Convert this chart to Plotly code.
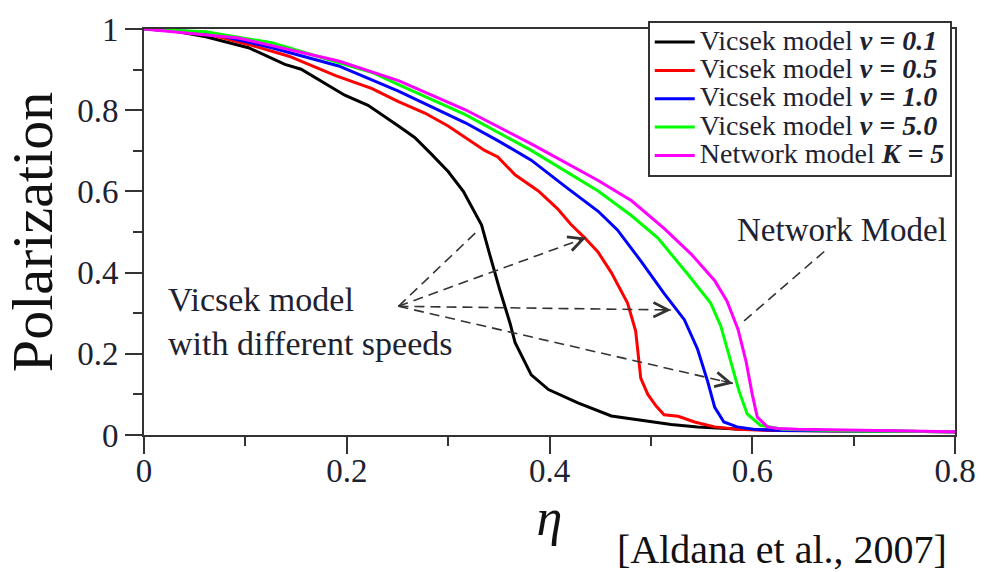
import plotly.graph_objects as go

# ---------------- data ----------------
eta_v01 = [0, 0.03, 0.061, 0.103, 0.139, 0.155, 0.198, 0.221, 0.251, 0.267, 0.283, 0.300, 0.315, 0.333,
           0.341, 0.351, 0.361, 0.366, 0.382, 0.399, 0.428, 0.461, 0.494, 0.520, 0.546, 0.589, 0.65, 0.7, 0.75, 0.8]
pol_v01 = [1.0, 0.995, 0.981, 0.954, 0.913, 0.901, 0.837, 0.812, 0.761, 0.733, 0.693, 0.649, 0.600, 0.517,
           0.445, 0.357, 0.276, 0.228, 0.148, 0.112, 0.079, 0.047, 0.035, 0.026, 0.020, 0.014, 0.011, 0.010, 0.009, 0.008]

eta_v05 = [0, 0.03, 0.061, 0.103, 0.143, 0.189, 0.225, 0.251, 0.277, 0.300, 0.336, 0.349, 0.366, 0.389,
           0.408, 0.421, 0.435, 0.448, 0.461, 0.477, 0.485, 0.490, 0.497, 0.505, 0.513, 0.527, 0.543, 0.563,
           0.585, 0.62, 0.7, 0.8]
pol_v05 = [1.0, 0.996, 0.989, 0.962, 0.933, 0.885, 0.853, 0.821, 0.793, 0.761, 0.701, 0.685, 0.641, 0.601,
           0.557, 0.519, 0.485, 0.450, 0.400, 0.325, 0.256, 0.140, 0.100, 0.072, 0.050, 0.046, 0.032, 0.020,
           0.014, 0.011, 0.010, 0.008]

eta_v10 = [0, 0.061, 0.126, 0.192, 0.251, 0.317, 0.349, 0.382, 0.415, 0.448, 0.467, 0.490, 0.513, 0.533,
           0.546, 0.556, 0.563, 0.572, 0.585, 0.601, 0.63, 0.7, 0.8]
pol_v10 = [1.0, 0.992, 0.954, 0.909, 0.847, 0.769, 0.725, 0.677, 0.613, 0.551, 0.505, 0.429, 0.349, 0.284,
           0.212, 0.132, 0.068, 0.032, 0.020, 0.014, 0.011, 0.010, 0.008]

eta_v50 = [0, 0.061, 0.126, 0.225, 0.251, 0.317, 0.382, 0.448, 0.481, 0.507, 0.536, 0.559, 0.569, 0.579,
           0.587, 0.595, 0.608, 0.63, 0.7, 0.8]
pol_v50 = [1.0, 0.993, 0.966, 0.893, 0.863, 0.789, 0.701, 0.601, 0.540, 0.485, 0.397, 0.325, 0.268, 0.180,
           0.108, 0.052, 0.024, 0.014, 0.010, 0.008]

eta_net = [0, 0.093, 0.192, 0.251, 0.317, 0.382, 0.448, 0.481, 0.513, 0.540, 0.563, 0.575, 0.586, 0.594,
           0.600, 0.605, 0.615, 0.625, 0.645, 0.727, 0.8]
pol_net = [1.0, 0.978, 0.921, 0.873, 0.801, 0.717, 0.627, 0.577, 0.509, 0.445, 0.380, 0.330, 0.260, 0.180,
           0.100, 0.044, 0.020, 0.016, 0.014, 0.010, 0.008]

series_names = ['Vicsek model <b><i>v = 0.1</i></b>', 'Vicsek model <b><i>v = 0.5</i></b>',
                'Vicsek model <b><i>v = 1.0</i></b>', 'Vicsek model <b><i>v = 5.0</i></b>',
                'Network model <b><i>K = 5</i></b>']
series_colors = ['#000000', '#ff0000', '#0000ff', '#00ff00', '#ff00ff']
series_x = [eta_v01, eta_v05, eta_v10, eta_v50, eta_net]
series_y = [pol_v01, pol_v05, pol_v10, pol_v50, pol_net]

x_ticks = [0, 0.2, 0.4, 0.6, 0.8]
y_ticks = [0, 0.2, 0.4, 0.6, 0.8, 1]

# annotation arrows (eta, polarization)
vicsek_arrow_tail = (0.251, 0.317)
vicsek_arrow_tips = [(0.330, 0.505), (0.436, 0.486), (0.520, 0.308), (0.581, 0.127)]
network_arrow_tail = (0.671, 0.452)
network_arrow_tip = (0.592, 0.281)

FONT = 'Liberation Serif'
TXT = '#1e2230'

fig = go.Figure()
for nm, col, xs, ys in zip(series_names, series_colors, series_x, series_y):
    fig.add_trace(go.Scatter(
        x=xs, y=ys, mode='lines', name='<span style="font-size:28px">' + nm + '</span>',
        line=dict(color=col, width=3)))

# dashed arrows
def dashed_arrow(tail, tip):
    fig.add_shape(type='line', xref='x', yref='y', x0=tail[0], y0=tail[1], x1=tip[0], y1=tip[1],
                  line=dict(color='#333333', width=1.6, dash='10px,6px'))
    dx = tip[0] - tail[0]
    dy = tip[1] - tail[1]
    fig.add_annotation(x=tip[0], y=tip[1], ax=tip[0] - 0.04 * dx, ay=tip[1] - 0.04 * dy,
                       xref='x', yref='y', axref='x', ayref='y', text='', showarrow=True,
                       arrowhead=5, arrowsize=2.2, arrowwidth=1.3, arrowcolor='#333333')

for tip in vicsek_arrow_tips:
    dashed_arrow(vicsek_arrow_tail, tip)
dashed_arrow(network_arrow_tail, network_arrow_tip)

fig.add_annotation(x=0.022, y=0.28, xref='x', yref='y', xanchor='left', yanchor='middle', align='left',
                   text='Vicsek model<br>with different speeds', showarrow=False,
                   font=dict(family=FONT, size=34, color=TXT))
fig.add_annotation(x=0.689, y=0.505, xref='x', yref='y', xanchor='center', yanchor='middle',
                   text='Network Model', showarrow=False, font=dict(family=FONT, size=33, color=TXT))
fig.add_annotation(x=0.993, y=-0.282, xref='paper', yref='paper', xanchor='right', yanchor='middle',
                   text='[Aldana et al., 2007]', showarrow=False, font=dict(family=FONT, size=40, color='#111111'))

axis_common = dict(showline=True, linecolor='#333333', linewidth=2, mirror=True, ticks='outside',
                   ticklen=17, tickwidth=1.5, tickcolor='#333333', showgrid=False, zeroline=False,
                   tickfont=dict(family=FONT, size=33, color=TXT))

fig.update_xaxes(range=[0, 0.8], tickvals=x_ticks, ticktext=[f'{v:g}' for v in x_ticks],
                 minor=dict(dtick=0.1, ticklen=9, tickwidth=1.5, tickcolor='#333333', ticks='outside'),
                 ticklabelstandoff=-12,
                 title=dict(text='<i>η</i>', font=dict(family=FONT, size=52, color='#111111'), standoff=0),
                 **axis_common)
fig.update_yaxes(range=[0, 1], tickvals=y_ticks, ticktext=[f'{v:g}' for v in y_ticks],
                 minor=dict(dtick=0.1, ticklen=9, tickwidth=1.5, tickcolor='#333333', ticks='outside'),
                 title=dict(text='Polarization', font=dict(family=FONT, size=58, color='#111111'), standoff=16),
                 **axis_common)

fig.update_layout(
    width=988, height=572,
    margin=dict(l=144, r=30, t=19, b=137),
    paper_bgcolor='white', plot_bgcolor='white',
    showlegend=True,
    legend=dict(x=0.996, xanchor='right', y=1.02, yanchor='top', bgcolor='white',
                bordercolor='#333333', borderwidth=2, font=dict(family=FONT, size=19.5, color=TXT),
                itemwidth=40, tracegroupgap=0),
)

fig.write_html('out.html')
